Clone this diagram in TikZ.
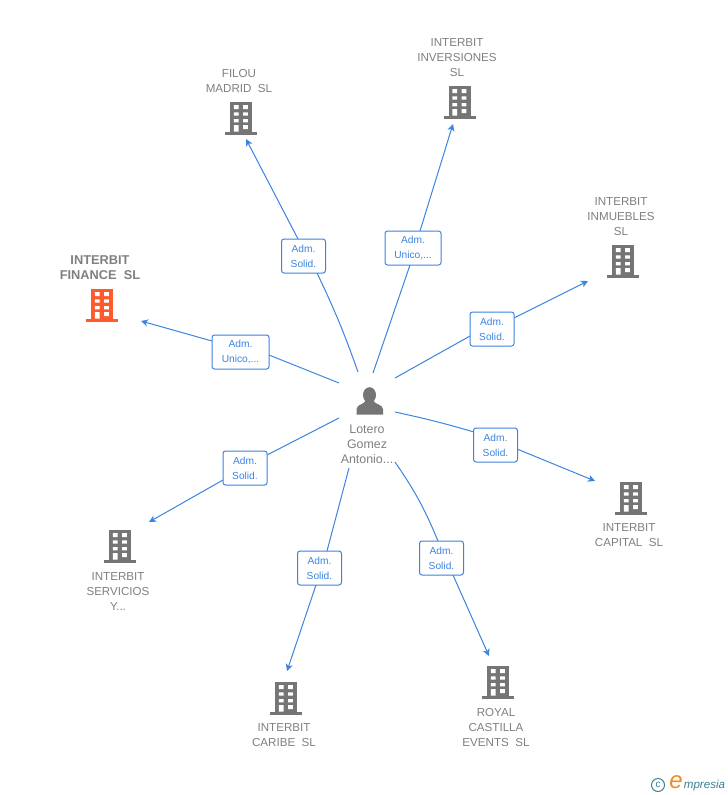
\documentclass[tikz,border=0pt]{standalone}
\usepackage{fontspec}
\setmainfont{Liberation Sans}
\usetikzlibrary{arrows.meta}
\definecolor{linkblue}{HTML}{3C84E0}
\definecolor{bldggray}{HTML}{757575}
\definecolor{bldgorange}{HTML}{FF5A2C}
\definecolor{labelgray}{HTML}{808080}
\definecolor{logoblue}{HTML}{3F7F96}
\definecolor{logoorange}{HTML}{F08A24}
\begin{document}
\begin{tikzpicture}[x=1pt, y=-1pt,
      company/.style={align=center, inner sep=0pt, text=labelgray, font=\fontsize{11.6}{15}\selectfont},
      role/.style={draw=linkblue, fill=white, rounded corners=2.5pt, line width=1pt, align=center,
        text=linkblue, inner sep=0pt, minimum height=34pt, font=\fontsize{10.2}{15}\selectfont},
      link/.style={draw=linkblue, line width=1pt},
      arrowlink/.style={link, -{Stealth[length=7pt, width=7pt, inset=2pt]}},
      pics/bldg/.style={code={
        \fill[#1] (-16,0) rectangle (16,-3);
        \fill[#1] (-11,-3) rectangle (11,-33);
        \fill[white] (-7.2,-30) rectangle (-2.5,-26) (2.2,-30) rectangle (6.8,-26);
        \fill[white] (-7.2,-22.7) rectangle (-2.5,-19.3) (2.2,-22.7) rectangle (6.8,-19.3);
        \fill[white] (-7.2,-16) rectangle (-2.5,-12.7) (2.2,-16) rectangle (6.8,-12.7);
        \fill[white] (-7.2,-10) rectangle (-2.5,-3.3) (2.2,-10) rectangle (6.8,-6);
      }}]
      \useasboundingbox (0,0) rectangle (728,795);
      \fill[white] (0,0) rectangle (728,795);

      % Building icons
      \pic at (241,135) {bldg=bldggray};
      \pic at (459.5,119) {bldg=bldggray};
      \pic at (623,278) {bldg=bldggray};
      \pic at (102,322) {bldg=bldgorange};
      \pic at (631,515) {bldg=bldggray};
      \pic at (120,563) {bldg=bldggray};
      \pic at (286,715) {bldg=bldggray};
      \pic at (498,699) {bldg=bldggray};

      % Company names
      \node[company] (filou) at (239,80.7) {FILOU\\MADRID\ \ SL};
      \node[company] (inversiones) at (457,57.7) {INTERBIT\\INVERSIONES\\SL};
      \node[company] (inmuebles) at (621,216.2) {INTERBIT\\INMUEBLES\\SL};
      \node[company, font=\fontsize{12.8}{15}\selectfont\bfseries] (finance) at (100,267.2) {INTERBIT\\FINANCE\ \ SL};
      \node[company] (capital) at (629,535.2) {INTERBIT\\CAPITAL\ \ SL};
      \node[company] (servicios) at (118,591.2) {INTERBIT\\SERVICIOS\\Y...};
      \node[company] (caribe) at (284,735.2) {INTERBIT\\CARIBE\ \ SL};
      \node[company] (royal) at (496,727.2) {ROYAL\\CASTILLA\\EVENTS\ \ SL};

      % Person in the middle
      \fill[bldggray] (369.5,395) ellipse (6.5pt and 7.8pt);
      \fill[bldggray] (356.5,414.5) -- (356.5,409) .. controls (357,404) and (364,405) .. (366,400)
        -- (373,400) .. controls (375,405) and (382.5,404) .. (383,409) -- (383,414.5) -- cycle;
      \node[company, font=\fontsize{12.4}{15}\selectfont] (lotero) at (367,444) {Lotero\\Gomez\\Antonio...};

      % Free ends of the connectors
      \coordinate (s1) at (358,372);
      \coordinate (s2) at (373,373);
      \coordinate (s3) at (395,378);
      \coordinate (s4) at (395,412);
      \coordinate (s5) at (395,462);
      \coordinate (s6) at (349,468);
      \coordinate (s7) at (339,418);
      \coordinate (s8) at (339,383);
      \coordinate (t1) at (246,139);
      \coordinate (t2) at (453,124);
      \coordinate (t3) at (588,281);
      \coordinate (t4) at (595,481);
      \coordinate (t5) at (489,656);
      \coordinate (t6) at (287,671);
      \coordinate (t7) at (149,522);
      \coordinate (t8) at (141,321);

      % Where each connector meets its role box
      \coordinate (a1) at (317,273);
      \coordinate (a2) at (410,265);
      \coordinate (a3) at (470,336);
      \coordinate (a4) at (474,432);
      \coordinate (a5) at (438,541);
      \coordinate (a6) at (327,551);
      \coordinate (a7) at (267,455);
      \coordinate (a8) at (269,355);
      \coordinate (c1) at (298,239);
      \coordinate (c2) at (420,231);
      \coordinate (c3) at (514,318);
      \coordinate (c4) at (517,449);
      \coordinate (c5) at (453,575);
      \coordinate (c6) at (316,585);
      \coordinate (c7) at (223,480);
      \coordinate (c8) at (212,341);

      \draw[link] (s1) to[bend right=3] (a1);
      \draw[link] (s2) -- (a2);
      \draw[link] (s3) -- (a3);
      \draw[link] (s4) to[bend left=2] (a4);
      \draw[link] (s5) to[bend left=6] (a5);
      \draw[link] (s6) -- (a6);
      \draw[link] (s7) -- (a7);
      \draw[link] (s8) -- (a8);
      \draw[arrowlink] (c1) -- (t1);
      \draw[arrowlink] (c2) -- (t2);
      \draw[arrowlink] (c3) -- (t3);
      \draw[arrowlink] (c4) -- (t4);
      \draw[arrowlink] (c5) -- (t5);
      \draw[arrowlink] (c6) -- (t6);
      \draw[arrowlink] (c7) -- (t7);
      \draw[arrowlink] (c8) -- (t8);

      \node[role, minimum width=44pt] (r1) at (303.5,256) {Adm.\\Solid.};
      \node[role, minimum width=56pt] (r2) at (413,248) {Adm.\\Unico,...};
      \node[role, minimum width=44pt] (r3) at (492,329) {Adm.\\Solid.};
      \node[role, minimum width=44pt] (r4) at (495.5,445) {Adm.\\Solid.};
      \node[role, minimum width=44pt] (r5) at (441.5,558) {Adm.\\Solid.};
      \node[role, minimum width=44pt] (r6) at (319.5,568) {Adm.\\Solid.};
      \node[role, minimum width=44pt] (r7) at (245,468) {Adm.\\Solid.};
      \node[role, minimum width=57pt] (r8) at (240.5,352) {Adm.\\Unico,...};

      % Logo in the corner
      \node[circle, draw=logoblue, line width=1pt, minimum size=13pt, inner sep=0pt, text=logoblue,
        font=\fontsize{10}{10}\selectfont] (logoc) at (658,785) {c};
      \node[inner sep=0pt, text=logoorange, font=\fontsize{24}{24}\selectfont\itshape] (logoe) at (676,782) {e};
      \node[inner sep=0pt, text=logoblue, font=\fontsize{11.6}{11.6}\selectfont\itshape] (logot) at (704.5,785) {mpresia};
    \end{tikzpicture}
\end{document}
